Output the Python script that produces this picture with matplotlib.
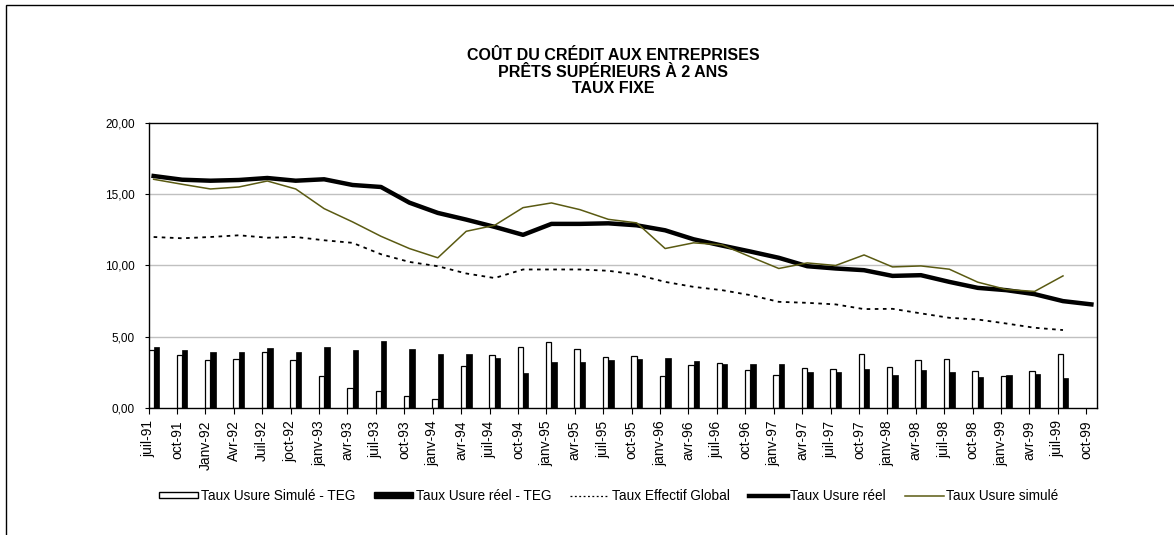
#!/usr/bin/env python3

import numpy as np
import matplotlib
matplotlib.use("Agg")
import matplotlib.pyplot as plt
from matplotlib.patches import Rectangle, Patch
from matplotlib.lines import Line2D
from matplotlib.ticker import FuncFormatter

plt.rcParams['font.family'] = ['Liberation Sans', 'DejaVu Sans']

nan = np.nan

# categories (quarters)
periods = ['juil-91', 'oct-91', 'Janv-92', 'Avr-92', 'Juil-92', 'joct-92',
           'janv-93', 'avr-93', 'juil-93', 'oct-93', 'janv-94', 'avr-94',
           'juil-94', 'oct-94', 'janv-95', 'avr-95', 'juil-95', 'oct-95',
           'janv-96', 'avr-96', 'juil-96', 'oct-96', 'janv-97', 'avr-97',
           'juil-97', 'oct-97', 'janv-98', 'avr-98', 'juil-98', 'oct-98',
           'janv-99', 'avr-99', 'juil-99', 'oct-99']

# bars
simule_teg = [4.06, 3.74, 3.36, 3.43, 3.95, 3.36, 2.27, 1.40, 1.21, 0.84,
              0.63, 2.96, 3.74, 4.30, 4.65, 4.16, 3.57, 3.64, 2.27, 3.04,
              3.13, 2.64, 2.34, 2.78, 2.71, 3.78, 2.90, 3.34, 3.41, 2.62,
              2.27, 2.57, 3.76, nan]
reel_teg = [4.27, 4.09, 3.95, 3.90, 4.20, 3.90, 4.30, 4.04, 4.72, 4.13,
            3.81, 3.76, 3.50, 2.43, 3.22, 3.22, 3.36, 3.46, 3.53, 3.32,
            3.08, 3.06, 3.06, 2.55, 2.55, 2.76, 2.29, 2.66, 2.52, 2.20,
            2.31, 2.36, 2.08, nan]

# lines
teg = [12.00, 11.91, 12.00, 12.12, 11.95, 12.00, 11.77, 11.59, 10.79, 10.25,
       9.95, 9.44, 9.12, 9.72, 9.72, 9.72, 9.63, 9.36, 8.85, 8.50,
       8.27, 7.92, 7.45, 7.38, 7.27, 6.94, 6.96, 6.64, 6.33, 6.21,
       5.93, 5.63, 5.47, nan]
usure_reel = [16.28, 16.02, 15.95, 16.00, 16.14, 15.95, 16.05, 15.65, 15.51,
              14.41, 13.69, 13.22, 12.71, 12.15, 12.92, 12.92, 12.96, 12.82,
              12.47, 11.84, 11.40, 10.98, 10.54, 9.95, 9.79, 9.67, 9.27,
              9.32, 8.85, 8.43, 8.27, 7.99, 7.50, 7.27]
usure_simule = [16.05, 15.70, 15.37, 15.51, 15.93, 15.37, 13.99, 13.06, 12.05,
                11.19, 10.54, 12.40, 12.82, 14.06, 14.39, 13.92, 13.24, 12.99,
                11.19, 11.59, 11.45, 10.61, 9.79, 10.18, 10.00, 10.74, 9.90,
                9.97, 9.74, 8.83, 8.32, 8.18, 9.27, nan]

OLIVE = '#5a5a12'

fig = plt.figure(figsize=(11.74, 5.35), dpi=100)
ax = fig.add_axes([0.1265, 0.2374, 0.8075, 0.5327])

x = np.arange(len(periods))
bw = 0.19

ax.bar(x - bw, simule_teg, width=bw, align='edge', color='white',
       edgecolor='black', linewidth=0.9, zorder=2)
ax.bar(x, reel_teg, width=bw, align='edge', color='black',
       edgecolor='black', linewidth=0.5, zorder=2)

ax.plot(x, teg, color='black', linestyle=(0, (2, 2.5)), linewidth=1.3, zorder=3)
ax.plot(x, usure_reel, color='black', linewidth=3.2, zorder=3,
        solid_joinstyle='round')
ax.plot(x, usure_simule, color=OLIVE, linewidth=1.1, zorder=4)

ax.set_xlim(-0.18, len(periods) - 1 + 0.18)
ax.set_ylim(0, 20)
ax.set_yticks([0, 5, 10, 15, 20])
ax.yaxis.set_major_formatter(FuncFormatter(lambda v, p: f"{v:.2f}".replace('.', ',')))
ax.set_xticks(x - 0.18)
ax.set_xticklabels(periods, rotation=90, fontsize=10)
ax.tick_params(axis='y', labelsize=8.5, length=3, pad=7, width=0.8)
ax.tick_params(axis='x', length=4, pad=5, width=0.8)

for v in [5, 10, 15]:
    ax.axhline(v, color='#c0c0c0', linewidth=1.0, zorder=1)
for s in ax.spines.values():
    s.set_linewidth(1.0)
    s.set_color('black')

fig.text(0.522, 1 - 72 / 535,
         "COÛT DU CRÉDIT AUX ENTREPRISES\nPRÊTS SUPÉRIEURS À 2 ANS\nTAUX FIXE",
         ha='center', va='center', fontsize=11.5, fontweight='bold',
         linespacing=1.15)

handles = [
    Patch(facecolor='white', edgecolor='black', linewidth=1.0),
    Patch(facecolor='black', edgecolor='black'),
    Line2D([], [], color='black', linestyle=(0, (1.5, 2)), linewidth=0.9),
    Line2D([], [], color='black', linewidth=3.2),
    Line2D([], [], color=OLIVE, linewidth=1.1),
]
labels = ['Taux Usure Simulé - TEG', 'Taux Usure réel - TEG',
          'Taux Effectif Global', 'Taux Usure réel', 'Taux Usure simulé']
fig.legend(handles, labels, loc='center', bbox_to_anchor=(609 / 1174, 1 - 496 / 535),
           ncol=5, frameon=False, fontsize=9.8, handlelength=2.85, handleheight=0.37,
           handletextpad=0.2, columnspacing=1.4)

# outer chart border
fig.patches.append(Rectangle((6 / 1174, -0.1), 2.0, 1.1 - 5 / 535,
                             transform=fig.transFigure, fill=False,
                             edgecolor='black', linewidth=1.0))

fig.savefig('out.png', dpi=100)
